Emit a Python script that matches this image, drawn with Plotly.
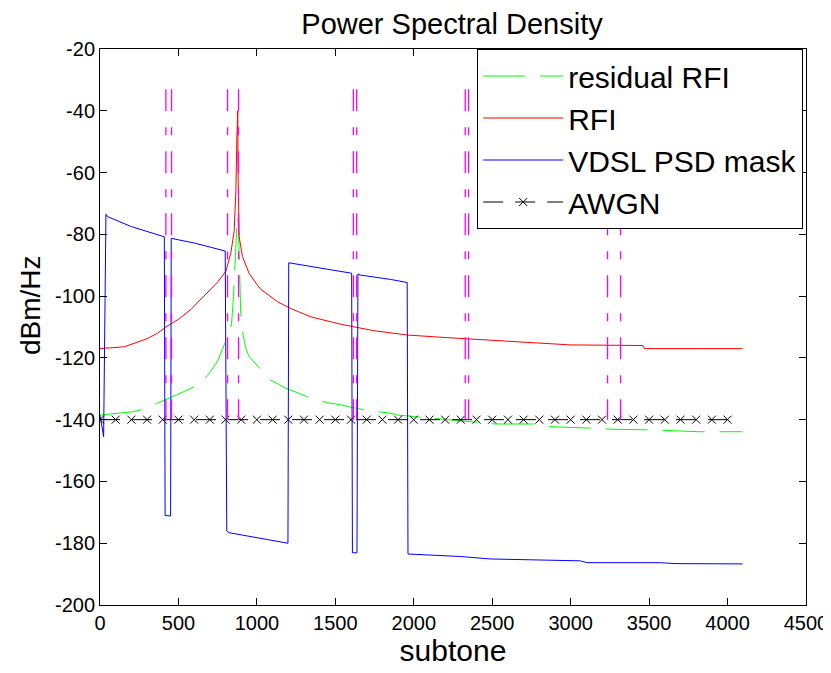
import plotly.graph_objects as go

# ---------------- data ----------------
green_x = [0, 100, 200, 280, 370, 450, 530, 611, 685, 750, 802, 825, 838, 851, 861, 868, 874, 878,
           882, 890, 897, 910, 929, 950, 978, 1030, 1088, 1184, 1279, 1343, 1450, 1534, 1630, 1750,
           1852, 1895, 2000, 2200, 2404, 2520, 2786, 2881, 3168, 3263, 3500, 3719, 3821, 4095]
green_y = [-138.5, -138, -137.5, -136.6, -134.7, -132.8, -131, -129.1, -125.8, -121, -114.5, -111,
           -109.3, -100.2, -91.5, -82, -74.3, -74, -77, -95, -105.5, -112, -116.9, -119.5, -121.2,
           -124, -127.2, -129.8, -131.7, -133.1, -134.5, -135.2, -136.3, -137.3, -137.9, -138.5,
           -139, -140, -141, -141.4, -141.4, -142.3, -142.8, -143.1, -143.3, -143.6, -143.9, -143.9]

red_x = [0, 155, 300, 367, 420, 500, 580, 685, 749, 802, 834, 855, 866, 872, 875, 878, 880, 884,
         887, 908, 950, 1004, 1025, 1131, 1216, 1343, 1534, 1746, 1958, 2200, 2468, 2750, 2998,
         3460, 3470, 3800, 4095]
red_y = [-117, -116.4, -113.8, -112, -110, -107.5, -104.3, -99, -95.5, -92, -86, -79,
         -66, -50, -40.3, -40, -60, -71, -80.8, -87.2, -92.6, -96.5, -97.8, -101.8, -104,
         -106.7, -109.1, -111.2, -112.6, -113.4, -114.2, -115, -115.8, -116, -117, -117, -117]

blue_x = [0, 23, 38, 49, 200, 410, 415, 450, 454, 600, 798, 808, 823, 1000, 1088, 1173, 1198,
          1203, 1400, 1604, 1609, 1638, 1644, 1661, 1852, 1958, 1963, 2107, 2298, 2489, 3062,
          3104, 3571, 3666, 4095]
blue_y = [-138.5, -145.5, -73.5, -74.3, -77.5, -80.8, -171, -171.2, -81.3, -82.8, -85.4, -176,
          -176.6, -178.2, -179, -180, -180, -89.2, -90.9, -92.6, -183.1, -183.1, -92.8, -93.2,
          -94.6, -95.6, -183.5, -183.8, -184.3, -185.1, -185.7, -186.3, -186.3, -186.6, -186.7]

awgn_x = list(range(0, 4001, 100))
awgn_level = -140

band_edges = [420, 456, 813, 883, 1615, 1636, 2328, 2349, 3235, 3318]
band_top, band_bottom = -33, -140

x_ticks = [0, 500, 1000, 1500, 2000, 2500, 3000, 3500, 4000, 4500]
y_ticks = [-200, -180, -160, -140, -120, -100, -80, -60, -40, -20]

FONT = "Liberation Sans, Arial, sans-serif"

# the page places the figure 8px from the top-left corner
W, H = 823, 665

fig = go.Figure()
fig.add_trace(go.Scatter(x=green_x, y=green_y, mode="lines", name="residual RFI",
                         line=dict(color="#00ff00", width=1, dash="42px,15px")))
fig.add_trace(go.Scatter(x=red_x, y=red_y, mode="lines", name="RFI",
                         line=dict(color="#ff0000", width=1)))
fig.add_trace(go.Scatter(x=blue_x, y=blue_y, mode="lines", name="VDSL PSD mask",
                         line=dict(color="#0000ff", width=1)))
fig.add_trace(go.Scatter(x=awgn_x, y=[awgn_level] * len(awgn_x), mode="lines+markers", name="AWGN",
                         line=dict(color="black", width=1, dash="20px,12px"),
                         marker=dict(symbol="x-thin", size=8, color="black",
                                     line=dict(width=1, color="black"))))

mx, my = [], []
for e in band_edges:
    mx += [e, e, None]
    my += [band_top, band_bottom, None]
fig.add_trace(go.Scatter(x=mx, y=my, mode="lines", showlegend=False, hoverinfo="skip",
                         line=dict(color="#ff00ff", width=1.3, dash="22px,16px,8px,16px")))

axis_common = dict(showline=True, linecolor="black", linewidth=1, mirror="allticks",
                   ticks="inside", ticklen=7, tickcolor="black", showgrid=False, zeroline=False,
                   automargin=False,
                   tickfont=dict(family=FONT, size=20, color="black"))

fig.update_layout(
    width=W, height=H,
    margin=dict(l=92, r=25, t=41, b=68),
    paper_bgcolor="white", plot_bgcolor="white",
    title=dict(text="Power Spectral Density", x=444 / W, xanchor="center", y=1 - 16 / H,
               yanchor="middle", font=dict(family=FONT, size=29, color="black")),
    xaxis=dict(range=[0, 4500], tickvals=x_ticks, ticktext=[str(v) for v in x_ticks],
               title=dict(text="subtone", font=dict(family=FONT, size=30, color="black"), standoff=4),
               **axis_common),
    yaxis=dict(range=[-200, -20], tickvals=y_ticks, ticktext=[str(v) for v in y_ticks],
               **axis_common),
    annotations=[dict(text="dBm/Hz", textangle=-90, xref="paper", yref="paper",
                      x=-70 / 706, y=(605 - 305) / 556, xanchor="center", yanchor="middle",
                      showarrow=False, font=dict(family=FONT, size=28, color="black"))],
    legend=dict(x=0.996, y=1, xanchor="right", yanchor="top", bgcolor="white",
                bordercolor="black", borderwidth=1, itemwidth=80,
                font=dict(family=FONT, size=30, color="black")),
    showlegend=True,
)

fig.write_html("out.html")
